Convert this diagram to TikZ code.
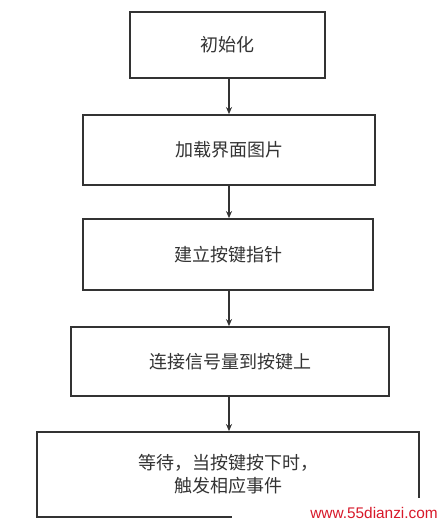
\documentclass[tikz,border=0pt]{standalone}
\usepackage{fontspec}
\newfontfamily\cjk{Noto Sans CJK SC}
\setsansfont{Liberation Sans}
\usetikzlibrary{arrows.meta}
\definecolor{ink}{HTML}{333333}
\definecolor{wm}{HTML}{D8192A}
\begin{document}
\begin{tikzpicture}[x=1pt,y=-1pt,
  stepbox/.style={draw=ink,line width=1.8pt,rectangle,inner sep=0pt,
    font=\cjk\fontsize{18}{23}\selectfont,text=ink,align=center},
  flow/.style={draw=ink,line width=1.5pt,-{Stealth[length=7pt,width=6pt]}}]
\useasboundingbox (0,0) rectangle (444,525);
\fill[white] (0,0) rectangle (444,525);
\node[stepbox,minimum width=195pt,minimum height=66pt] (b1) at (227.5,45) {初始化};
\node[stepbox,minimum width=292pt,minimum height=70pt] (b2) at (229,150) {加载界面图片};
\node[stepbox,minimum width=290pt,minimum height=71pt] (b3) at (228,254.5) {建立按键指针};
\node[stepbox,minimum width=318pt,minimum height=69pt] (b4) at (230,361.5) {连接信号量到按键上};
\node[stepbox,minimum width=382pt,minimum height=85pt] (b5) at (228,474.5) {等待，当按键按下时，\\触发相应事件};
\coordinate (a1) at (229,0);
\draw[flow] (a1 |- b1.south) -- (a1 |- b2.north);
\draw[flow] (a1 |- b2.south) -- (a1 |- b3.north);
\draw[flow] (a1 |- b3.south) -- (a1 |- b4.north);
\draw[flow] (a1 |- b4.south) -- (a1 |- b5.north);
\node[fill=white,minimum width=212pt,minimum height=27pt,inner sep=0pt] (wbg) at (338,511.5) {};
\node[font=\sffamily\fontsize{15.4}{18}\selectfont,text=wm,inner sep=0pt,anchor=base east] (wmark) at (438,518) {www.55dianzi.com};
\end{tikzpicture}
\end{document}
